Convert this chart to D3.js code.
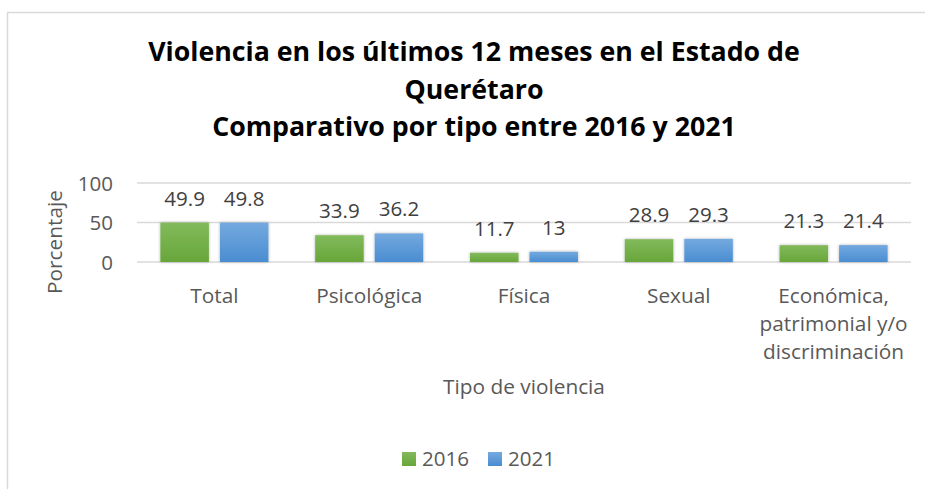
<!DOCTYPE html>
<html><head><meta charset="utf-8">
<script src="https://cdn.jsdelivr.net/npm/d3@7"></script>
<style>body{margin:0;background:#fff;} svg{display:block;}</style>
</head><body>
<script>
const categories = [["Total"],["Psicológica"],["Física"],["Sexual"],["Económica,","patrimonial y/o","discriminación"]];
const series2016 = [49.9, 33.9, 11.7, 28.9, 21.3];
const series2021 = [49.8, 36.2, 13, 29.3, 21.4];
const seriesNames = ["2016","2021"];
const yTicks = [0, 50, 100];
const titleLines = ["Violencia en los últimos 12 meses en el Estado de","Querétaro","Comparativo por tipo entre 2016 y 2021"];

const W = 925, H = 489;
const font = "'Open Sans', Lato, sans-serif";
const svg = d3.select("body").append("svg").attr("width", W).attr("height", H);

// measure helper: font size so that text fits a target width
function fitSize(txt, target, weight){
  const t = svg.append("text").attr("font-family",font).attr("font-size",20).attr("font-weight",weight||"normal").text(txt);
  const w = t.node().getComputedTextLength();
  t.remove();
  return 20*target/w;
}
const titleSize = Math.min(fitSize(titleLines[0], 652, "bold"), 27);
const bodySize = fitSize("Tipo de violencia", 162);
const numSize = fitSize("2016", 47);

const defs = svg.append("defs");
const grads = [["g16","#82ba5c","#68a63a"],["g21","#74a9df","#4a8dd1"]];
grads.forEach(([id,c1,c2])=>{
  const g = defs.append("linearGradient").attr("id",id).attr("x1",0).attr("y1",0).attr("x2",0).attr("y2",1);
  g.append("stop").attr("offset","0%").attr("stop-color",c1);
  g.append("stop").attr("offset","100%").attr("stop-color",c2);
});
const f = defs.append("filter").attr("id","sh").attr("x","-20%").attr("y","-20%").attr("width","140%").attr("height","140%");
f.append("feDropShadow").attr("dx",0).attr("dy",0).attr("stdDeviation",1.8).attr("flood-color","#000").attr("flood-opacity",0.3);

// border
svg.append("rect").attr("x",7.5).attr("y",12.5).attr("width",W).attr("height",H).attr("fill","none").attr("stroke","#d9d9d9").attr("stroke-width",1.5);

// title
svg.append("text").attr("text-anchor","middle").attr("font-family",font).attr("font-weight","bold").attr("font-size",titleSize).attr("fill","#000")
  .selectAll("tspan").data(titleLines).join("tspan").attr("x",474).attr("y",(d,i)=>61+i*37.5).text(d=>d);

const left = 137, right = 911;
const x = d3.scaleBand().domain(d3.range(categories.length)).range([left,right]).paddingInner(0).paddingOuter(0);
const y = d3.scaleLinear().domain([0,100]).range([262,183]);

// gridlines
svg.append("g").selectAll("line").data(yTicks).join("line")
  .attr("x1",left).attr("x2",right).attr("y1",d=>y(d)).attr("y2",d=>y(d)).attr("stroke","#d9d9d9").attr("stroke-width",1.5);

// y axis labels
const yAxis = d3.axisLeft(y).tickValues(yTicks).tickSize(0).tickPadding(0);
const ya = svg.append("g").attr("transform",`translate(${113},0)`).call(yAxis);
ya.select(".domain").remove();
ya.selectAll("text").attr("font-family",font).attr("font-size",numSize).attr("fill","#595959").attr("dy","0.36em");

svg.append("text").attr("transform","translate(62,242) rotate(-90)").attr("text-anchor","middle")
  .attr("font-family",font).attr("font-size",bodySize).attr("fill","#595959").text("Porcentaje");

const bw = x.bandwidth();
const x1 = d3.scaleBand().domain([0,1]).range([bw*0.151, bw*0.849]).paddingInner(0.185).paddingOuter(0);
const data = [series2016, series2021];
data.forEach((s,si)=>{
  const g = svg.append("g");
  g.selectAll("rect").data(s).join("rect")
    .attr("x",(d,i)=>x(i)+x1(si)).attr("width",x1.bandwidth())
    .attr("y",d=>y(d)).attr("height",d=>y(0)-y(d))
    .attr("fill",`url(#${grads[si][0]})`).attr("filter","url(#sh)");
  g.selectAll("text").data(s).join("text")
    .attr("x",(d,i)=>x(i)+x1(si)+x1.bandwidth()/2).attr("y",d=>y(d)-17)
    .attr("text-anchor","middle").attr("font-family",font).attr("font-size",numSize).attr("fill","#404040")
    .text(d=>d);
});

// category labels
const cl = svg.append("g").selectAll("text").data(categories).join("text")
  .attr("text-anchor","middle").attr("font-family",font).attr("font-size",bodySize).attr("fill","#595959");
cl.each(function(lines,i){
  d3.select(this).selectAll("tspan").data(lines).join("tspan")
    .attr("x",x(i)+x.bandwidth()/2).attr("y",(d,j)=>303+j*28).text(d=>d);
});

svg.append("text").attr("x",524).attr("y",394).attr("text-anchor","middle").attr("font-family",font).attr("font-size",bodySize).attr("fill","#595959").text("Tipo de violencia");

// legend
const lg = svg.append("g");
const legX = [402, 488];
seriesNames.forEach((n,i)=>{
  lg.append("rect").attr("x",legX[i]).attr("y",452).attr("width",14).attr("height",14).attr("fill",`url(#${grads[i][0]})`);
  lg.append("text").attr("x",legX[i]+20).attr("y",466).attr("font-family",font).attr("font-size",numSize).attr("fill","#595959").text(n);
});
</script>
</body></html>
